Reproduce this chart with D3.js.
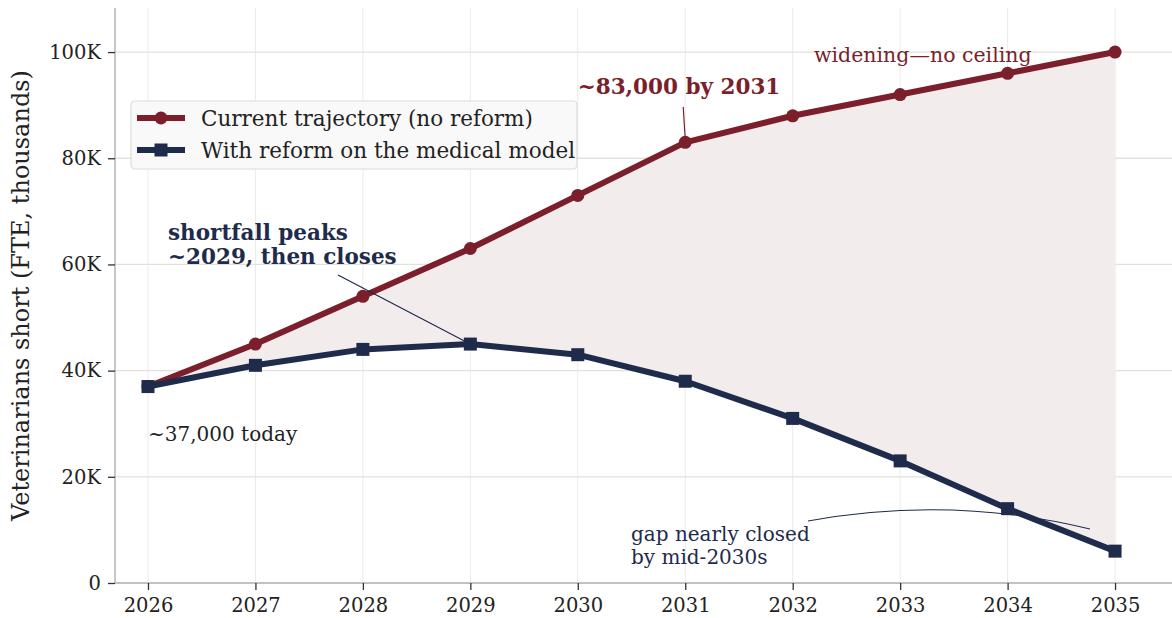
<!DOCTYPE html>
<html>
<head>
<meta charset="utf-8">
<script src="https://cdn.jsdelivr.net/npm/d3@7"></script>
<style>
  body { margin: 0; background: #fff; }
  svg text { font-family: "DejaVu Serif", serif; }
</style>
</head>
<body>
<div id="drawing_region"></div>
<script>
var years = [2026, 2027, 2028, 2029, 2030, 2031, 2032, 2033, 2034, 2035];
var noReform = [37, 45, 54, 63, 73, 83, 88, 92, 96, 100];
var withReform = [37, 41, 44, 45, 43, 38, 31, 23, 14, 6];
var yTicks = [0, 20, 40, 60, 80, 100];
var seriesNames = ["Current trajectory (no reform)", "With reform on the medical model"];

var red = "#7a1f2b", navy = "#1f2b4b";
var width = 1172, height = 618;
var margin = { top: 8, right: 0, bottom: 35, left: 115 };

var svg = d3.select("#drawing_region").append("svg")
    .attr("width", width).attr("height", height);

var x = d3.scaleLinear().domain([2025.693, 2035.53]).range([margin.left, width - margin.right]);
var y = d3.scaleLinear().domain([0, 108.3]).range([height - margin.bottom, margin.top]);

// grid
svg.append("g").selectAll("line").data(years).enter().append("line")
    .attr("x1", d => x(d)).attr("x2", d => x(d))
    .attr("y1", y(0)).attr("y2", margin.top)
    .attr("stroke", "#ecebe8").attr("stroke-width", 1);
svg.append("g").selectAll("line").data(yTicks).enter().append("line")
    .attr("x1", margin.left).attr("x2", width)
    .attr("y1", d => y(d)).attr("y2", d => y(d))
    .attr("stroke", "#e3e1da").attr("stroke-width", 1.3);

var data = years.map((yr, i) => ({ year: yr, a: noReform[i], b: withReform[i] }));

// gap fill
svg.append("path").datum(data)
    .attr("fill", "#f3eced")
    .attr("d", d3.area().x(d => x(d.year)).y0(d => y(d.b)).y1(d => y(d.a)));

// axes
var xAxis = svg.append("g").attr("transform", "translate(0," + y(0) + ")")
    .call(d3.axisBottom(x).tickValues(years).tickFormat(d3.format("d")).tickSize(7).tickPadding(8));
var yAxis = svg.append("g").attr("transform", "translate(" + margin.left + ",0)")
    .call(d3.axisLeft(y).tickValues(yTicks).tickFormat(d => d === 0 ? "0" : d + "K").tickSize(7).tickPadding(7));
[xAxis, yAxis].forEach(g => {
    g.select(".domain").attr("stroke", "#b5b5b5").attr("stroke-width", 1.5);
    g.selectAll(".tick line").attr("stroke", "#333").attr("stroke-width", 1.3);
    g.selectAll(".tick text").attr("font-size", 19.5).attr("fill", "#222")
        .style("font-family", "DejaVu Serif");
});
xAxis.select(".domain").attr("d", "M" + margin.left + ",0H" + width);
yAxis.select(".domain").attr("d", "M0," + margin.top + "V" + y(0));

svg.append("text")
    .attr("transform", "translate(29," + ((margin.top + y(0)) / 2) + ") rotate(-90)")
    .attr("text-anchor", "middle").attr("font-size", 24).attr("fill", "#222")
    .text("Veterinarians short (FTE, thousands)");

// lines
var line = key => d3.line().x(d => x(d.year)).y(d => y(d[key]));
svg.append("path").datum(data).attr("fill", "none").attr("stroke", red)
    .attr("stroke-width", 6).attr("stroke-linejoin", "round").attr("d", line("a"));
svg.append("g").selectAll("circle").data(data).enter().append("circle")
    .attr("cx", d => x(d.year)).attr("cy", d => y(d.a)).attr("r", 6.5).attr("fill", red);

svg.append("path").datum(data).attr("fill", "none").attr("stroke", navy)
    .attr("stroke-width", 6).attr("stroke-linejoin", "round").attr("d", line("b"));
svg.append("g").selectAll("rect").data(data).enter().append("rect")
    .attr("x", d => x(d.year) - 6.5).attr("y", d => y(d.b) - 6.5)
    .attr("width", 13).attr("height", 13).attr("fill", navy);

// annotations
svg.append("line").attr("x1", x(2031) - 2).attr("y1", 107).attr("x2", x(2031)).attr("y2", y(83) - 3)
    .attr("stroke", red).attr("stroke-width", 1.2);
svg.append("text").attr("x", 679).attr("y", 94).attr("text-anchor", "middle")
    .attr("font-size", 21.5).attr("font-weight", "bold").attr("fill", red).text("~83,000 by 2031");
svg.append("text").attr("x", 814).attr("y", 62).attr("font-size", 20.5).attr("fill", red)
    .text("widening\u2014no ceiling");

svg.append("line").attr("x1", 338).attr("y1", 275).attr("x2", x(2029) - 4).attr("y2", y(45) - 2)
    .attr("stroke", navy).attr("stroke-width", 1.2);
var sp = svg.append("text").attr("font-size", 21.5).attr("font-weight", "bold").attr("fill", navy);
sp.append("tspan").attr("x", 168).attr("y", 240).text("shortfall peaks");
sp.append("tspan").attr("x", 168).attr("y", 264).text("~2029, then closes");

svg.append("text").attr("x", 148).attr("y", 441).attr("font-size", 20).attr("fill", "#222")
    .text("~37,000 today");

svg.append("path").attr("fill", "none").attr("stroke", navy).attr("stroke-width", 1.2)
    .attr("d", "M808,521 Q950,495 1090,529");
var gp = svg.append("text").attr("font-size", 20).attr("fill", navy);
gp.append("tspan").attr("x", 631).attr("y", 541).text("gap nearly closed");
gp.append("tspan").attr("x", 631).attr("y", 564).text("by mid-2030s");

// legend
var lg = svg.append("g").attr("transform", "translate(131,101)");
lg.append("rect").attr("width", 446).attr("height", 68).attr("rx", 4)
    .attr("fill", "#faf9f8").attr("fill-opacity", 0.92).attr("stroke", "#dcdcdc").attr("stroke-width", 1.2);
[red, navy].forEach((c, i) => {
    var row = lg.append("g").attr("transform", "translate(0," + (17 + i * 32) + ")");
    row.append("line").attr("x1", 6).attr("x2", 54).attr("stroke", c).attr("stroke-width", 6);
    if (i === 0) row.append("circle").attr("cx", 30).attr("r", 6.5).attr("fill", c);
    else row.append("rect").attr("x", 23.5).attr("y", -6.5).attr("width", 13).attr("height", 13).attr("fill", c);
    row.append("text").attr("x", 70).attr("y", 7.5).attr("font-size", 21.5).attr("fill", "#222")
        .text(seriesNames[i]);
});
</script>
</body>
</html>
